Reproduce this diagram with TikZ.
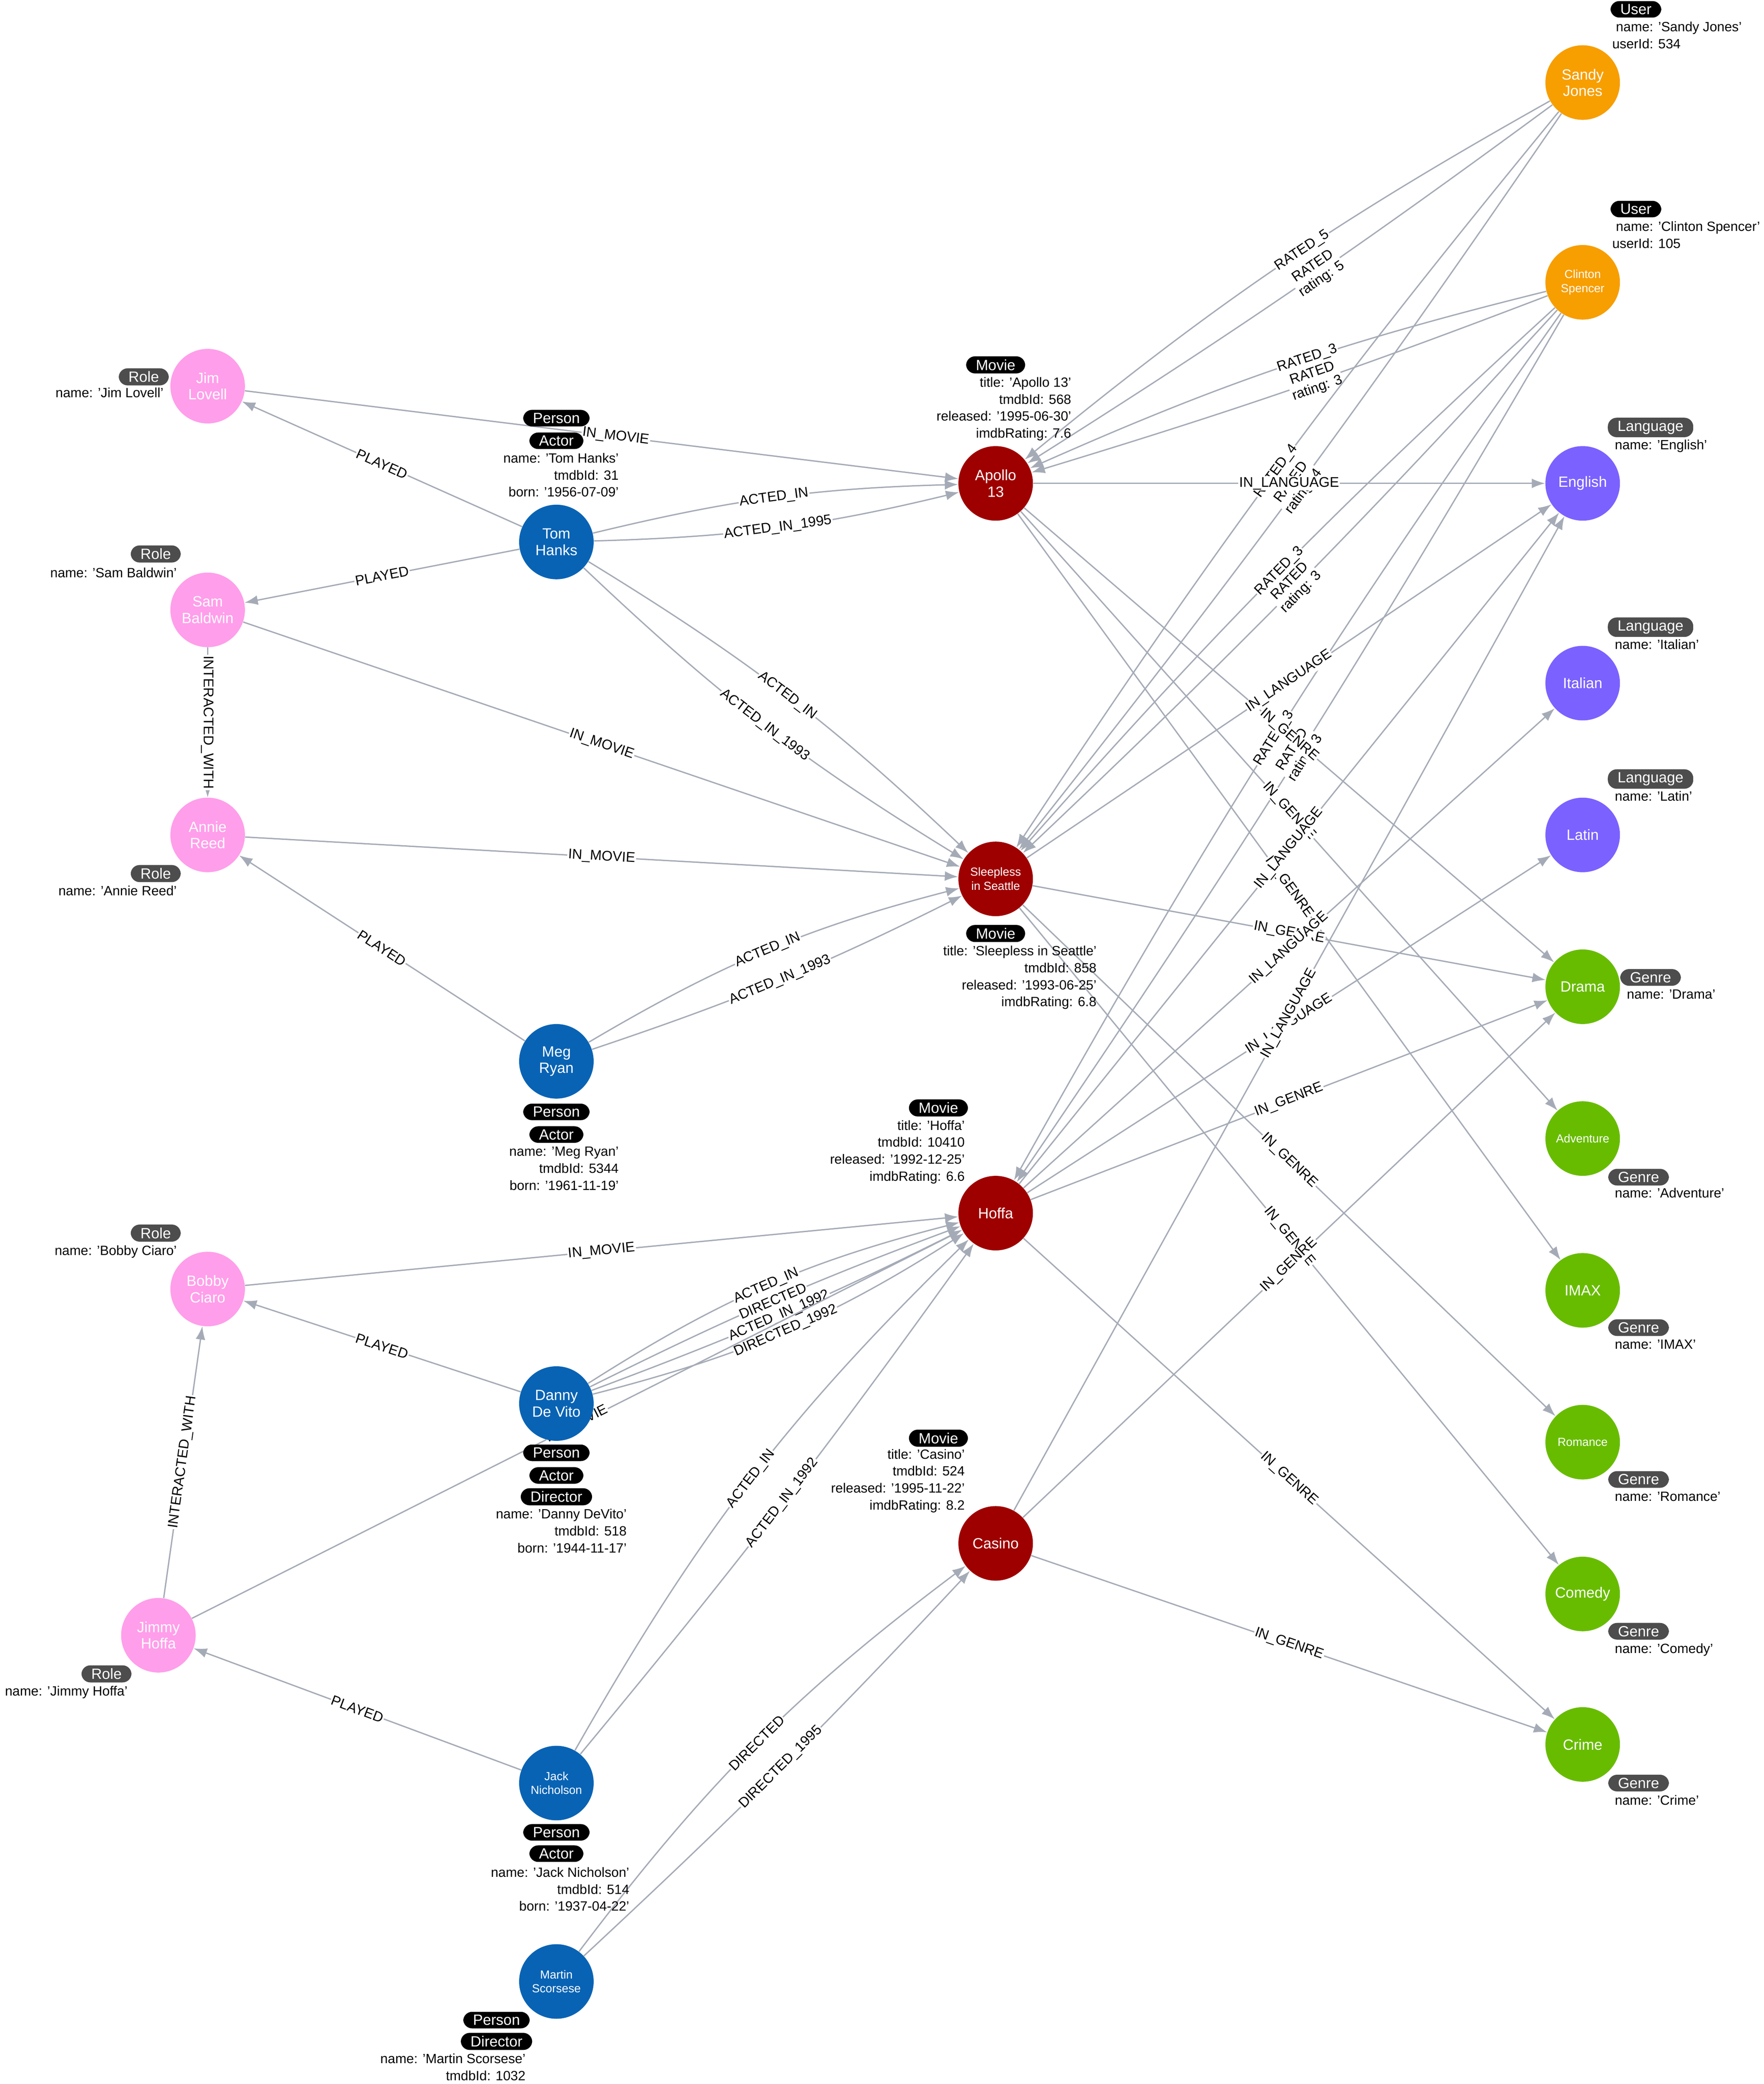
\documentclass[tikz,border=0pt]{standalone}
\usepackage{fontspec}
\setmainfont{Liberation Sans}
\usepackage{tikz}
\usetikzlibrary{arrows.meta, positioning}
\definecolor{rolepink}{HTML}{FF9EEA}
\definecolor{personblue}{HTML}{0863B4}
\definecolor{moviered}{HTML}{9E0000}
\definecolor{userorange}{HTML}{F79E00}
\definecolor{langpurple}{HTML}{7B61FF}
\definecolor{genregreen}{HTML}{68BC00}
\definecolor{edgegray}{HTML}{A5ABB6}
\definecolor{badgegray}{HTML}{4D4D4D}
\pgfdeclarelayer{bg}
\pgfsetlayers{bg,main}
\begin{document}
\begin{tikzpicture}[
  x=0.3mm, y=-0.3mm,
  ent/.style={circle, minimum size=16.8mm, inner sep=0pt, text=white,
    align=center, font=\fontsize{9.5}{10.5}\selectfont},
  small/.style={font=\fontsize{7.5}{9}\selectfont},
  role/.style={ent, fill=rolepink},
  person/.style={ent, fill=personblue},
  movie/.style={ent, fill=moviered},
  user/.style={ent, fill=userorange},
  lang/.style={ent, fill=langpurple},
  genre/.style={ent, fill=genregreen},
  rel/.style={draw=edgegray, line width=0.3mm, -{Latex[length=3mm, width=2.2mm]}},
  lbl/.style={sloped, fill=white, inner sep=0.6pt, align=center,
    font=\fontsize{9}{10}\selectfont},
  badge/.style={rounded corners=2mm, fill=black, text=white, inner xsep=2.2mm,
    inner ysep=0.7mm, font=\fontsize{9.5}{10}\selectfont},
  gbadge/.style={badge, fill=badgegray},
  props/.style={align=right, inner sep=0pt, anchor=north east,
    font=\fontsize{8.6}{10.9}\selectfont},
  lprops/.style={props, align=left, anchor=north west}
]
  \useasboundingbox (0,0) rectangle (1325,1565);

  % users
  \node[user] (sandy) at (1189,62) {Sandy\\Jones};
  \node[user, small] (clinton) at (1189,212) {Clinton\\Spencer};
  % languages
  \node[lang] (english) at (1189,363) {English};
  \node[lang] (italian) at (1189,513) {Italian};
  \node[lang] (latin) at (1189,627) {Latin};
  % genres
  \node[genre] (drama) at (1189,741) {Drama};
  \node[genre, small] (adventure) at (1189,855) {Adventure};
  \node[genre] (imax) at (1189,969) {IMAX};
  \node[genre, small] (romance) at (1189,1083) {Romance};
  \node[genre] (comedy) at (1189,1197) {Comedy};
  \node[genre] (crime) at (1189,1310) {Crime};
  % movies
  \node[movie] (apollo) at (748,363) {Apollo\\13};
  \node[movie, small] (sleepless) at (748,660) {Sleepless\\in Seattle};
  \node[movie] (hoffa) at (748,911) {Hoffa};
  \node[movie] (casino) at (748,1159) {Casino};
  % people
  \node[person] (tom) at (418,407) {Tom\\Hanks};
  \node[person] (meg) at (418,797) {Meg\\Ryan};
  \node[person] (danny) at (418,1054) {Danny\\De Vito};
  \node[person, small] (jack) at (418,1339) {Jack\\Nicholson};
  \node[person, small] (martin) at (418,1488) {Martin\\Scorsese};
  % roles
  \node[role] (jim) at (156,290) {Jim\\Lovell};
  \node[role] (sam) at (156,458) {Sam\\Baldwin};
  \node[role] (annie) at (156,627) {Annie\\Reed};
  \node[role] (bobby) at (156,968) {Bobby\\Ciaro};
  \node[role] (jimmy) at (119,1228) {Jimmy\\Hoffa};

  \begin{pgfonlayer}{bg}
  % roles and people
  \draw[rel] (jim) -- node[lbl, pos=0.52] {IN\_MOVIE} (apollo);
  \draw[rel] (tom) -- node[lbl] {PLAYED} (jim);
  \draw[rel] (tom) -- node[lbl] {PLAYED} (sam);
  \draw[rel] (tom) to[bend left=6] node[lbl] {ACTED\_IN} (apollo);
  \draw[rel] (tom) to[bend right=6] node[lbl] {ACTED\_IN\_1995} (apollo);
  \draw[rel] (tom) to[bend left=6] node[lbl] {ACTED\_IN} (sleepless);
  \draw[rel] (tom) to[bend right=6] node[lbl] {ACTED\_IN\_1993} (sleepless);
  \draw[rel] (sam) -- node[lbl] {INTERACTED\_WITH} (annie);
  \draw[rel] (sam) -- node[lbl] {IN\_MOVIE} (sleepless);
  \draw[rel] (annie) -- node[lbl] {IN\_MOVIE} (sleepless);
  \draw[rel] (meg) -- node[lbl] {PLAYED} (annie);
  \draw[rel] (meg) to[bend left=8] node[lbl] {ACTED\_IN} (sleepless);
  \draw[rel] (meg) to[bend right=4] node[lbl] {ACTED\_IN\_1993} (sleepless);
  \draw[rel] (bobby) -- node[lbl] {IN\_MOVIE} (hoffa);
  \draw[rel] (danny) -- node[lbl] {PLAYED} (bobby);
  \draw[rel] (danny) to[bend left=9] node[lbl] {ACTED\_IN} (hoffa);
  \draw[rel] (danny) to[bend left=3] node[lbl] {DIRECTED} (hoffa);
  \draw[rel] (danny) to[bend right=3] node[lbl] {ACTED\_IN\_1992} (hoffa);
  \draw[rel] (danny) to[bend right=9] node[lbl] {DIRECTED\_1992} (hoffa);
  \draw[rel] (jimmy) -- node[lbl] {IN\_MOVIE} (hoffa);
  \draw[rel] (jimmy) -- node[lbl] {INTERACTED\_WITH} (bobby);
  \draw[rel] (jack) -- node[lbl] {PLAYED} (jimmy);
  \draw[rel] (jack) to[bend left=8] node[lbl] {ACTED\_IN} (hoffa);
  \draw[rel] (jack) to[bend right=2] node[lbl] {ACTED\_IN\_1992} (hoffa);
  \draw[rel] (martin) to[bend left=8] node[lbl] {DIRECTED} (casino);
  \draw[rel] (martin) to[bend right=2] node[lbl] {DIRECTED\_1995} (casino);
  % ratings
  \draw[rel] (sandy) to[bend right=5] node[lbl, pos=0.45] {RATED\_5} (apollo);
  \draw[rel] (sandy) to[bend left=2] node[lbl, pos=0.45] {RATED\\rating: 5} (apollo);
  \draw[rel] (clinton) to[bend right=5] node[lbl, pos=0.45] {RATED\_3} (apollo);
  \draw[rel] (clinton) to[bend left=2] node[lbl, pos=0.45] {RATED\\rating: 3} (apollo);
  \draw[rel] (sandy) to[bend right=3] node[lbl] {RATED\_4} (sleepless);
  \draw[rel] (sandy) to[bend left=2] node[lbl] {RATED\\rating: 4} (sleepless);
  \draw[rel] (clinton) to[bend right=3] node[lbl] {RATED\_3} (sleepless);
  \draw[rel] (clinton) to[bend left=2] node[lbl] {RATED\\rating: 3} (sleepless);
  \draw[rel] (clinton) to[bend right=3] node[lbl] {RATED\_3} (hoffa);
  \draw[rel] (clinton) to[bend left=2] node[lbl] {RATED\\rating: 3} (hoffa);
  % languages and genres
  \draw[rel] (apollo) -- node[lbl] {IN\_LANGUAGE} (english);
  \draw[rel] (apollo) -- node[lbl] {IN\_GENRE} (drama);
  \draw[rel] (apollo) -- node[lbl] {IN\_GENRE} (adventure);
  \draw[rel] (apollo) -- node[lbl] {IN\_GENRE} (imax);
  \draw[rel] (sleepless) -- node[lbl] {IN\_LANGUAGE} (english);
  \draw[rel] (sleepless) -- node[lbl] {IN\_GENRE} (drama);
  \draw[rel] (sleepless) -- node[lbl] {IN\_GENRE} (romance);
  \draw[rel] (sleepless) -- node[lbl] {IN\_GENRE} (comedy);
  \draw[rel] (hoffa) -- node[lbl] {IN\_LANGUAGE} (english);
  \draw[rel] (hoffa) -- node[lbl] {IN\_LANGUAGE} (italian);
  \draw[rel] (hoffa) -- node[lbl] {IN\_LANGUAGE} (latin);
  \draw[rel] (hoffa) -- node[lbl] {IN\_GENRE} (drama);
  \draw[rel] (hoffa) -- node[lbl] {IN\_GENRE} (crime);
  \draw[rel] (casino) -- node[lbl] {IN\_LANGUAGE} (english);
  \draw[rel] (casino) -- node[lbl] {IN\_GENRE} (drama);
  \draw[rel] (casino) -- node[lbl] {IN\_GENRE} (crime);
  \end{pgfonlayer}

  % labels and properties
  \node[badge] (sandyB) at (1229,7) {User};
  \node[lprops] (sandyP) at (1211,16) {\ name: 'Sandy Jones'\\userId: 534};
  \node[badge] (clintonB) at (1229,157) {User};
  \node[lprops] (clintonP) at (1211,166) {\ name: 'Clinton Spencer'\\userId: 105};
  \node[gbadge] (englishB) at (1240,321) {Language};
  \node[lprops] (englishP) at (1213,330) {name: 'English'};
  \node[gbadge] (italianB) at (1240,471) {Language};
  \node[lprops] (italianP) at (1213,480) {name: 'Italian'};
  \node[gbadge] (latinB) at (1240,585) {Language};
  \node[lprops] (latinP) at (1213,594) {name: 'Latin'};
  \node[gbadge] (dramaB) at (1240,734) {Genre};
  \node[lprops] (dramaP) at (1222,743) {name: 'Drama'};
  \node[gbadge] (adventureB) at (1231,884) {Genre};
  \node[lprops] (adventureP) at (1213,892) {name: 'Adventure'};
  \node[gbadge] (imaxB) at (1231,997) {Genre};
  \node[lprops] (imaxP) at (1213,1006) {name: 'IMAX'};
  \node[gbadge] (romanceB) at (1231,1111) {Genre};
  \node[lprops] (romanceP) at (1213,1120) {name: 'Romance'};
  \node[gbadge] (comedyB) at (1231,1225) {Genre};
  \node[lprops] (comedyP) at (1213,1234) {name: 'Comedy'};
  \node[gbadge] (crimeB) at (1231,1339) {Genre};
  \node[lprops] (crimeP) at (1213,1348) {name: 'Crime'};

  \node[badge] (apolloB) at (748,274) {Movie};
  \node[props] (apolloP) at (805,283) {title: 'Apollo 13'\\tmdbId: 568\\released: '1995-06-30'\\imdbRating: 7.6};
  \node[badge] (sleeplessB) at (748,701) {Movie};
  \node[props] (sleeplessP) at (824,710) {title: 'Sleepless in Seattle'\\tmdbId: 858\\released: '1993-06-25'\\imdbRating: 6.8};
  \node[badge] (hoffaB) at (705,832) {Movie};
  \node[props] (hoffaP) at (725,841) {title: 'Hoffa'\\tmdbId: 10410\\released: '1992-12-25'\\imdbRating: 6.6};
  \node[badge] (casinoB) at (705,1080) {Movie};
  \node[props] (casinoP) at (725,1088) {title: 'Casino'\\tmdbId: 524\\released: '1995-11-22'\\imdbRating: 8.2};

  \node[badge] (tomB1) at (418,314) {Person};
  \node[badge] (tomB2) at (418,331) {Actor};
  \node[props] (tomP) at (465,340) {name: 'Tom Hanks'\\tmdbId: 31\\born: '1956-07-09'};
  \node[badge] (megB1) at (418,835) {Person};
  \node[badge] (megB2) at (418,852) {Actor};
  \node[props] (megP) at (465,861) {name: 'Meg Ryan'\\tmdbId: 5344\\born: '1961-11-19'};
  \node[badge] (dannyB1) at (418,1091) {Person};
  \node[badge] (dannyB2) at (418,1108) {Actor};
  \node[badge] (dannyB3) at (418,1124) {Director};
  \node[props] (dannyP) at (471,1133) {name: 'Danny DeVito'\\tmdbId: 518\\born: '1944-11-17'};
  \node[badge] (jackB1) at (418,1376) {Person};
  \node[badge] (jackB2) at (418,1392) {Actor};
  \node[props] (jackP) at (473,1402) {name: 'Jack Nicholson'\\tmdbId: 514\\born: '1937-04-22'};
  \node[badge] (martinB1) at (373,1517) {Person};
  \node[badge] (martinB2) at (373,1533) {Director};
  \node[props] (martinP) at (395,1542) {name: 'Martin Scorsese'\\tmdbId: 1032};

  \node[gbadge] (jimB) at (108,283) {Role};
  \node[props] (jimP) at (123,291) {name: 'Jim Lovell'};
  \node[gbadge] (samB) at (117,416) {Role};
  \node[props] (samP) at (133,426) {name: 'Sam Baldwin'};
  \node[gbadge] (annieB) at (117,656) {Role};
  \node[props] (annieP) at (133,665) {name: 'Annie Reed'};
  \node[gbadge] (bobbyB) at (117,926) {Role};
  \node[props] (bobbyP) at (133,935) {name: 'Bobby Ciaro'};
  \node[gbadge] (jimmyB) at (80,1257) {Role};
  \node[props] (jimmyP) at (96,1266) {name: 'Jimmy Hoffa'};
\end{tikzpicture}
\end{document}
